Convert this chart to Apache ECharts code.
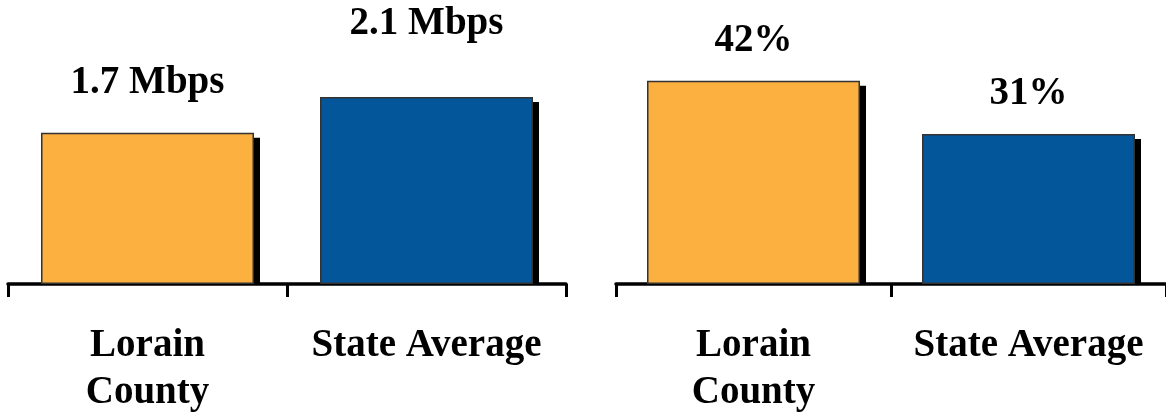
<!DOCTYPE html>
<html><head><meta charset="utf-8">
<script src="https://cdn.jsdelivr.net/npm/echarts@6/dist/echarts.min.js"></script>
<style>html,body{margin:0;padding:0;background:#fff}#c{width:1166px;height:416px}</style>
</head><body><div id="c"></div>
<script>
const categories = ['Lorain\nCounty', 'State Average'];
const speedValues = [1.7, 2.1];
const speedLabels = ['1.7 Mbps', '2.1 Mbps'];
const shareValues = [42, 31];
const shareLabels = ['42%', '31%'];
const barColors = ['#FBB040', '#04569A'];

const FONT = '"Liberation Serif", "Times New Roman", serif';
const BAR_W = 213;
const chart = echarts.init(document.getElementById('c'));

function items(vals, labels, distances) {
  return vals.map((v, i) => ({
    value: v,
    itemStyle: { color: barColors[i] },
    label: { formatter: labels[i], distance: distances[i] }
  }));
}
function xAx(gi) {
  return {
    type: 'category', gridIndex: gi, data: categories,
    axisLine: { lineStyle: { color: '#000', width: 3.5 } },
    axisTick: { show: true, length: 13, lineStyle: { color: '#000', width: 3 } },
    axisLabel: { color: '#000', fontFamily: FONT, fontWeight: 'bold', fontSize: 39, lineHeight: 47, margin: 38, interval: 0 }
  };
}
function yAx(gi, max) {
  return { type: 'value', gridIndex: gi, min: 0, max: max, show: false };
}
function shadowSeries(gi, vals) {
  return {
    type: 'custom', xAxisIndex: gi, yAxisIndex: gi, z: 1, silent: true,
    data: vals.map((v, i) => [i, v]),
    renderItem: function (params, api) {
      const top = api.coord([api.value(0), api.value(1)]);
      const base = api.coord([api.value(0), 0]);
      return {
        type: 'rect',
        shape: { x: top[0] - BAR_W / 2 + 6, y: top[1] + 5, width: BAR_W, height: base[1] - top[1] - 5 },
        style: { fill: '#000' }
      };
    }
  };
}
const barStyle = { borderColor: '#333', borderWidth: 1.5 };
const labelBase = { show: true, position: 'top', color: '#000', fontFamily: FONT, fontWeight: 'bold', fontSize: 39 };

chart.setOption({
  animation: false,
  grid: [
    { left: 8, width: 558, top: 17, bottom: 124 },
    { left: 616, width: 558, top: 42, bottom: 124 }
  ],
  xAxis: [xAx(0), xAx(1)],
  yAxis: [yAx(0, 3), yAx(1, 50)],
  series: [
    shadowSeries(0, speedValues),
    shadowSeries(1, shareValues),
    { type: 'bar', xAxisIndex: 0, yAxisIndex: 0, z: 2, barWidth: BAR_W, itemStyle: barStyle, label: labelBase,
      data: items(speedValues, speedLabels, [30, 54]) },
    { type: 'bar', xAxisIndex: 1, yAxisIndex: 1, z: 2, barWidth: BAR_W, itemStyle: barStyle, label: labelBase,
      data: items(shareValues, shareLabels, [20, 21]) }
  ]
});
</script></body></html>
